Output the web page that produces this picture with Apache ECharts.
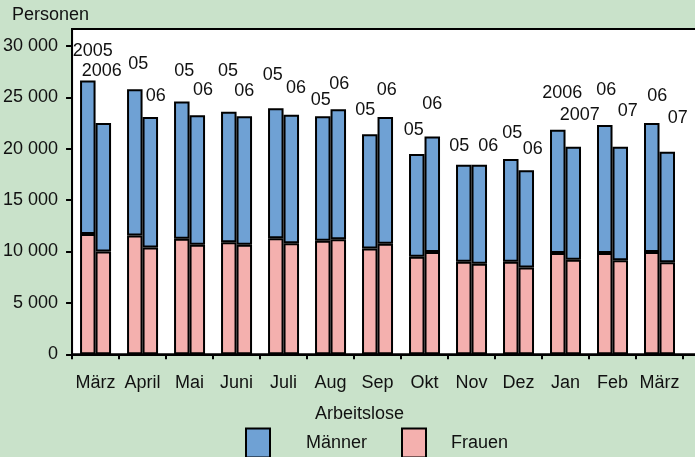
<!DOCTYPE html>
<html>
<head>
<meta charset="utf-8">
<script src="https://cdn.jsdelivr.net/npm/echarts@6/dist/echarts.min.js"></script>
<style>
html,body{margin:0;padding:0;background:#c9e2ca;overflow:hidden;width:695px;height:457px;}
#chart{width:740px;height:457px;}
</style>
</head>
<body>
<div id="chart"></div>
<script>
var months = ['März','April','Mai','Juni','Juli','Aug','Sep','Okt','Nov','Dez','Jan','Feb','März'];
var yearLabels1 = ['2005','05','05','05','05','05','05','05','05','05','2006','06','06'];
var yearLabels2 = ['2006','06','06','06','06','06','06','06','06','06','2007','07','07'];
var frauen1 = [11700, 11550, 11250, 10900, 11300, 11050, 10300, 9500, 9000, 9000, 9850, 9850, 9950];
var maenner1 = [14950, 14250, 13350, 12700, 12650, 12100, 11100, 10000, 9450, 10000, 12000, 12450, 12550];
var frauen2 = [10000, 10400, 10650, 10650, 10800, 11200, 10750, 9950, 8800, 8450, 9200, 9150, 8950];
var maenner2 = [12500, 12700, 12600, 12500, 12500, 12650, 12350, 11250, 9650, 9450, 11000, 11050, 10750];
var yTicks = [0, 5000, 10000, 15000, 20000, 25000, 30000];

// label placement (style): [dx, dy] relative to bar top
var labelOffsets1 = [[5,-29],[3.5,-25],[2.5,-30.5],[-0.8,-41],[-3,-33],[-2,-16],[-4.5,-24],[-3,-24],[-4.5,-18.5],[1.5,-25.5],[4.5,-36.5],[1.5,-35],[5.5,-27]];
var labelOffsets2 = [[-1.5,-52],[5.5,-21],[5.7,-25],[0,-25],[4.7,-27],[1,-25],[1.5,-27],[0,-32],[9,-18.5],[6.5,-21],[6.5,-31.7],[7.5,-35.7],[10.5,-33.5]];

var FONT = 'Liberation Sans, Arial, sans-serif';
var BLUE = '#6fa1d4', PINK = '#f4b0ae';
var cats = months.concat(['']);

function menData(vals, offs) {
  return vals.map(function (v, i) {
    return { value: v, label: { offset: offs[i] } };
  });
}
var barBase = { type: 'bar', barWidth: 15.5, barGap: '0%', barCategoryGap: '0%' };
function mk(name, stack, data, color, labels) {
  var s = Object.assign({}, barBase, {
    name: name, stack: stack, data: data,
    itemStyle: { color: color, borderColor: '#000', borderWidth: 2 }
  });
  if (labels) {
    s.label = {
      show: true, position: 'top', distance: 0, verticalAlign: 'middle',
      fontFamily: FONT, fontSize: 18, color: '#111',
      formatter: function (p) { return labels[p.dataIndex]; }
    };
  }
  return s;
}
var legendText = { fontFamily: FONT, fontSize: 18, color: '#111' };

var chart = echarts.init(document.getElementById('chart'));
chart.setOption({
  backgroundColor: '#c9e2ca',
  animation: false,
  title: [
    { text: 'Personen', left: 12, top: 6, padding: 0, textStyle: { fontFamily: FONT, fontSize: 18, fontWeight: 'normal', color: '#111' } },
    { text: 'Arbeitslose', left: 315, top: 405, padding: 0, textStyle: { fontFamily: FONT, fontSize: 18, fontWeight: 'normal', color: '#111' } }
  ],
  legend: [
    { left: 245, top: 427.5, padding: 0, itemWidth: 24, itemHeight: 29,
      textStyle: legendText, data: [{ name: 'Männer', icon: 'rect', textStyle: { padding: [0, 0, 0, 31] } }] },
    { left: 401, top: 427.5, padding: 0, itemWidth: 24, itemHeight: 29,
      textStyle: legendText, data: [{ name: 'Frauen', icon: 'rect', textStyle: { padding: [0, 0, 0, 20] } }] }
  ],
  grid: {
    left: 72, top: 29, width: 658, height: 325.3,
    show: true, backgroundColor: '#fff', borderColor: '#000', borderWidth: 2
  },
  xAxis: {
    type: 'category', data: cats,
    axisLine: { lineStyle: { color: '#000', width: 2 } },
    axisTick: { show: true, length: 5, lineStyle: { color: '#000', width: 2 } },
    axisLabel: { fontFamily: FONT, fontSize: 18, color: '#111', margin: 20, interval: 0 }
  },
  yAxis: {
    type: 'value', min: 0, max: 31650, interval: 5000,
    splitLine: { show: false },
    axisLine: { show: true, lineStyle: { color: '#000', width: 2 } },
    axisTick: { show: true, length: 6, lineStyle: { color: '#000', width: 2 }, customValues: yTicks },
    axisLabel: {
      fontFamily: FONT, fontSize: 18, color: '#111', margin: 14,
      customValues: yTicks,
      formatter: function (v) { return String(v).replace(/\B(?=(\d{3})+(?!\d))/g, ' '); }
    }
  },
  series: [
    mk('Frauen', 'a', frauen1, PINK),
    mk('Frauen', 'b', frauen2, PINK),
    mk('Männer', 'a', menData(maenner1, labelOffsets1), BLUE, yearLabels1),
    mk('Männer', 'b', menData(maenner2, labelOffsets2), BLUE, yearLabels2)
  ]
});
</script>
</body>
</html>
